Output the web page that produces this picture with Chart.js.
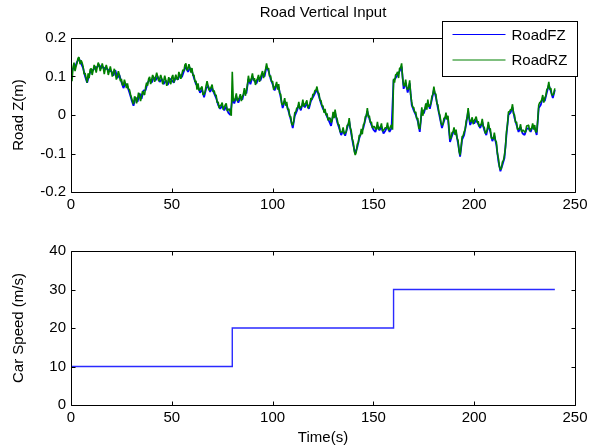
<!DOCTYPE html>
<html>
<head>
<meta charset="utf-8">
<title>Road Vertical Input</title>
<script src="https://cdn.jsdelivr.net/npm/chart.js@4.4.1/dist/chart.umd.min.js"></script>
<style>
    html, body { margin: 0; padding: 0; background: #fff; }
    #figure { position: relative; width: 593px; height: 448px; overflow: hidden; background: #fff; }
    #road-wrap { position: absolute; left: 0; top: 0; width: 593px; height: 220px; }
    #speed-wrap { position: absolute; left: 0; top: 220px; width: 593px; height: 228px; }
</style>
</head>
<body>
<div id="figure">
    <div id="road-wrap"><canvas id="road-chart"></canvas></div>
    <div id="speed-wrap"><canvas id="speed-chart"></canvas></div>
</div>
<script>
// --- Data ---
const RZ_STEP = 0.5; // seconds between RoadRZ samples
const FZ_STEP = 1;   // seconds between RoadFZ samples

const roadRZ = [
    0.100, 0.088, 0.124, 0.136, 0.114, 0.126, 0.135, 0.148, 0.150, 0.132, 0.142, 0.136, 0.126, 0.106, 0.109, 0.096, 0.084, 0.108, 0.096, 0.118,
    0.121, 0.104, 0.116, 0.130, 0.124, 0.110, 0.124, 0.136, 0.129, 0.114, 0.123, 0.134, 0.123, 0.106, 0.120, 0.130, 0.120, 0.104, 0.114, 0.126,
    0.114, 0.100, 0.110, 0.120, 0.108, 0.092, 0.102, 0.114, 0.104, 0.088, 0.094, 0.078, 0.077, 0.092, 0.082, 0.070, 0.082, 0.068, 0.066, 0.054,
    0.045, 0.036, 0.028, 0.048, 0.046, 0.030, 0.042, 0.058, 0.048, 0.036, 0.050, 0.062, 0.056, 0.052, 0.072, 0.084, 0.076, 0.094, 0.099, 0.080,
    0.092, 0.104, 0.097, 0.086, 0.098, 0.110, 0.100, 0.088, 0.094, 0.104, 0.094, 0.080, 0.089, 0.102, 0.091, 0.076, 0.086, 0.098, 0.086, 0.080,
    0.098, 0.104, 0.084, 0.094, 0.105, 0.094, 0.092, 0.112, 0.104, 0.094, 0.106, 0.118, 0.114, 0.130, 0.134, 0.116, 0.120, 0.132, 0.122, 0.110,
    0.122, 0.102, 0.104, 0.086, 0.089, 0.066, 0.082, 0.064, 0.066, 0.070, 0.074, 0.052, 0.054, 0.060, 0.076, 0.088, 0.076, 0.064, 0.068, 0.072,
    0.079, 0.060, 0.064, 0.052, 0.052, 0.032, 0.034, 0.018, 0.024, 0.026, 0.032, 0.014, 0.020, 0.026, 0.030, 0.010, 0.014, 0.016, 0.008, -0.002,
    0.112, 0.036, 0.038, 0.044, 0.056, 0.036, 0.040, 0.046, 0.054, 0.036, 0.048, 0.054, 0.070, 0.050, 0.064, 0.078, 0.102, 0.086, 0.089, 0.096,
    0.108, 0.090, 0.096, 0.078, 0.090, 0.094, 0.104, 0.086, 0.098, 0.106, 0.114, 0.096, 0.108, 0.118, 0.134, 0.120, 0.122, 0.100, 0.102, 0.086,
    0.088, 0.066, 0.072, 0.076, 0.086, 0.066, 0.080, 0.056, 0.054, 0.030, 0.026, 0.032, 0.044, 0.024, 0.034, 0.014, 0.016, -0.004, -0.004, -0.024,
    -0.026, -0.016, 0.006, 0.008, 0.018, 0.020, 0.034, 0.016, 0.020, 0.024, 0.040, 0.022, 0.028, 0.032, 0.038, 0.018, 0.024, 0.028, 0.044, 0.040,
    0.054, 0.054, 0.064, 0.064, 0.074, 0.058, 0.056, 0.038, 0.038, 0.024, 0.024, 0.006, 0.016, 0.000, 0.004, -0.014, -0.008, -0.008, -0.020, -0.014,
    0.008, -0.008, 0.014, -0.004, -0.010, -0.024, -0.026, -0.044, -0.044, -0.044, -0.032, -0.050, -0.046, -0.044, -0.026, -0.026, -0.008, -0.034, -0.040, -0.062,
    -0.070, -0.094, -0.104, -0.096, -0.076, -0.072, -0.052, -0.054, -0.036, -0.050, -0.026, -0.022, -0.004, -0.002, 0.018, -0.006, -0.002, -0.020, -0.018, -0.034,
    -0.030, -0.030, -0.036, -0.036, -0.018, -0.038, -0.032, -0.032, -0.022, -0.042, -0.040, -0.036, -0.032, -0.034, -0.020, -0.040, -0.036, -0.030, -0.026, -0.038,
    0.094, 0.084, 0.104, 0.106, 0.112, 0.096, 0.122, 0.122, 0.134, 0.096, 0.076, 0.076, 0.092, 0.072, 0.066, 0.072, 0.090, 0.052, 0.034, 0.020,
    0.020, 0.006, 0.008, -0.010, -0.008, -0.034, -0.036, -0.014, 0.020, -0.002, 0.012, 0.016, 0.030, 0.014, 0.040, 0.022, 0.024, 0.030, 0.048, 0.054,
    0.074, 0.056, 0.054, 0.030, 0.026, 0.006, 0.000, -0.020, -0.026, -0.024, -0.008, -0.008, 0.006, -0.012, -0.002, -0.034, -0.062, -0.060, -0.046, -0.044,
    -0.032, -0.052, -0.038, -0.060, -0.066, -0.094, -0.104, -0.084, -0.056, -0.054, -0.044, -0.038, -0.016, -0.006, 0.018, -0.008, -0.018, -0.016, -0.006, -0.024,
    -0.014, -0.010, -0.004, -0.020, -0.016, -0.030, -0.026, -0.024, -0.010, -0.030, -0.032, -0.048, -0.044, -0.038, -0.018, -0.034, -0.036, -0.060, -0.060, -0.062,
    -0.046, -0.066, -0.070, -0.100, -0.112, -0.134, -0.142, -0.138, -0.122, -0.118, -0.104, -0.084, -0.044, -0.024, 0.008, 0.008, 0.014, 0.014, 0.028, 0.004,
    0.000, -0.020, -0.018, -0.038, -0.036, -0.034, -0.024, -0.044, -0.040, -0.040, -0.044, -0.044, -0.028, -0.028, -0.026, -0.042, -0.036, -0.034, -0.022, -0.038,
    -0.026, -0.044, -0.044, -0.014, 0.026, 0.032, 0.034, 0.040, 0.052, 0.032, 0.044, 0.050, 0.066, 0.070, 0.086, 0.066, 0.070, 0.052, 0.052, 0.056,
    0.069
];

const roadFZ = [
    0.104, 0.120, 0.124, 0.138, 0.146, 0.134, 0.122, 0.100, 0.084, 0.104,
    0.118, 0.116, 0.124, 0.124, 0.130, 0.122, 0.124, 0.120, 0.120, 0.114,
    0.114, 0.102, 0.116, 0.096, 0.104, 0.086, 0.070, 0.082, 0.074, 0.058,
    0.040, 0.024, 0.046, 0.034, 0.056, 0.042, 0.064, 0.064, 0.084, 0.092,
    0.084, 0.098, 0.090, 0.100, 0.086, 0.094, 0.080, 0.090, 0.078, 0.094,
    0.090, 0.084, 0.098, 0.092, 0.104, 0.098, 0.114, 0.126, 0.112, 0.122,
    0.114, 0.096, 0.080, 0.074, 0.058, 0.066, 0.046, 0.068, 0.076, 0.060,
    0.070, 0.056, 0.044, 0.026, 0.016, 0.024, 0.012, 0.022, 0.006, 0.000,
    0.040, 0.030, 0.048, 0.032, 0.046, 0.040, 0.062, 0.056, 0.094, 0.080,
    0.100, 0.088, 0.082, 0.096, 0.090, 0.106, 0.100, 0.126, 0.114, 0.094,
    0.080, 0.064, 0.078, 0.072, 0.046, 0.018, 0.036, 0.026, 0.008, -0.012,
    -0.034, -0.002, 0.010, 0.026, 0.012, 0.032, 0.020, 0.030, 0.016, 0.036,
    0.046, 0.056, 0.066, 0.048, 0.030, 0.016, 0.008, -0.004, -0.016, -0.028,
    0.000, 0.006, -0.018, -0.034, -0.052, -0.040, -0.054, -0.034, -0.016, -0.048,
    -0.078, -0.100, -0.084, -0.060, -0.044, -0.034, -0.012, 0.010, -0.010, -0.026,
    -0.038, -0.044, -0.026, -0.040, -0.030, -0.048, -0.040, -0.028, -0.044, -0.034,
    0.090, 0.096, 0.104, 0.114, 0.126, 0.068, 0.084, 0.058, 0.082, 0.026,
    0.012, 0.000, -0.016, -0.044, 0.012, 0.004, 0.022, 0.032, 0.016, 0.040,
    0.066, 0.046, 0.018, -0.008, -0.034, -0.016, -0.002, -0.010, -0.070, -0.054,
    -0.040, -0.046, -0.074, -0.108, -0.064, -0.052, -0.024, 0.010, -0.026, -0.014,
    -0.022, -0.012, -0.024, -0.034, -0.018, -0.040, -0.052, -0.026, -0.044, -0.068,
    -0.054, -0.078, -0.120, -0.146, -0.130, -0.112, -0.052, 0.000, 0.006, 0.020,
    -0.008, -0.026, -0.044, -0.032, -0.048, -0.052, -0.036, -0.034, -0.044, -0.030,
    -0.034, -0.052, 0.018, 0.026, 0.044, 0.036, 0.058, 0.078, 0.062, 0.044,
    0.065
];

const speedTime = [0, 80, 160, 240];
const carSpeed = [10, 20, 30, 30];

const timeTicks = [0, 50, 100, 150, 200, 250];
const roadTicks = [-0.2, -0.1, 0, 0.1, 0.2];
const speedTicks = [0, 10, 20, 30, 40];

document.addEventListener('DOMContentLoaded', () => {

    Chart.defaults.font.family = 'Arial, "Liberation Sans", Helvetica, sans-serif';
    Chart.defaults.font.size = 15;
    Chart.defaults.color = '#000';

    const toPoints = (values, step) => values.map((v, i) => ({ x: i * step, y: v }));

    // --- MATLAB-like box with inward tick marks ---
    const matlabFrame = {
        id: 'matlabFrame',
        afterDatasetsDraw(chart) {
            const { ctx, chartArea, scales } = chart;
            const left = Math.round(chartArea.left) + 0.5;
            const right = Math.round(chartArea.right) + 0.5;
            const top = Math.round(chartArea.top) + 0.5;
            const bottom = Math.round(chartArea.bottom) + 0.5;
            const TICK = 4;
            ctx.save();
            ctx.strokeStyle = '#000';
            ctx.lineWidth = 1;
            ctx.beginPath();
            scales.x.ticks.forEach(t => {
                const px = Math.round(scales.x.getPixelForValue(t.value)) + 0.5;
                ctx.moveTo(px, bottom); ctx.lineTo(px, bottom - TICK);
                ctx.moveTo(px, top); ctx.lineTo(px, top + TICK);
            });
            scales.y.ticks.forEach(t => {
                const py = Math.round(scales.y.getPixelForValue(t.value)) + 0.5;
                ctx.moveTo(left, py); ctx.lineTo(left + TICK, py);
                ctx.moveTo(right, py); ctx.lineTo(right - TICK, py);
            });
            ctx.rect(left, top, right - left, bottom - top);
            ctx.stroke();
            ctx.restore();
        }
    };

    // --- Boxed legend in the upper right corner ---
    const boxedLegend = {
        id: 'boxedLegend',
        afterDraw(chart) {
            const { ctx, chartArea } = chart;
            const boxX = Math.round(chartArea.right) - 133 + 0.5;
            const boxY = Math.round(chartArea.top) - 17 + 0.5;
            const boxW = 135;
            const boxH = 55;
            ctx.save();
            ctx.fillStyle = '#fff';
            ctx.fillRect(boxX, boxY, boxW, boxH);
            ctx.strokeStyle = '#000';
            ctx.lineWidth = 1;
            ctx.strokeRect(boxX, boxY, boxW, boxH);
            ctx.font = '15px Arial, "Liberation Sans", Helvetica, sans-serif';
            ctx.textBaseline = 'middle';
            ctx.textAlign = 'left';
            chart.data.datasets.forEach((ds, i) => {
                const rowY = boxY + 13 + i * 25.5;
                ctx.strokeStyle = ds.borderColor;
                ctx.beginPath();
                ctx.moveTo(boxX + 10, rowY);
                ctx.lineTo(boxX + 63, rowY);
                ctx.stroke();
                ctx.fillStyle = '#000';
                ctx.fillText(ds.label, boxX + 69, rowY + 1);
            });
            ctx.restore();
        }
    };

    const fixedTicks = list => scale => { scale.ticks = list.map(v => ({ value: v })); };

    const xAxis = (height, titleText) => ({
        type: 'linear',
        min: timeTicks[0],
        max: timeTicks[timeTicks.length - 1],
        afterBuildTicks: fixedTicks(timeTicks),
        afterFit: scale => { scale.height = height; },
        grid: { drawOnChartArea: false, drawTicks: false },
        border: { display: false },
        ticks: { padding: 4, maxRotation: 0, autoSkip: false },
        title: {
            display: !!titleText,
            text: titleText || '',
            padding: { top: 0, bottom: 1 }
        }
    });

    const yAxis = (ticks, titleText, fmt) => ({
        type: 'linear',
        min: ticks[0],
        max: ticks[ticks.length - 1],
        afterBuildTicks: fixedTicks(ticks),
        afterFit: scale => { scale.width = 71; },
        grid: { drawOnChartArea: false, drawTicks: false },
        border: { display: false },
        ticks: { padding: 5, callback: fmt },
        title: {
            display: true,
            text: titleText,
            padding: { top: 10, bottom: 0 }
        }
    });

    // --- Road vertical input subplot ---
    new Chart(document.getElementById('road-chart'), {
        type: 'line',
        data: {
            datasets: [
                {
                    label: 'RoadFZ',
                    data: toPoints(roadFZ, FZ_STEP),
                    borderColor: '#0000ff',
                    borderWidth: 1.8,
                    borderJoinStyle: 'bevel',
                    pointRadius: 0,
                    order: 1
                },
                {
                    label: 'RoadRZ',
                    data: toPoints(roadRZ, RZ_STEP),
                    borderColor: '#008000',
                    borderWidth: 1.6,
                    borderJoinStyle: 'bevel',
                    pointRadius: 0,
                    order: 0
                }
            ]
        },
        options: {
            responsive: true,
            maintainAspectRatio: false,
            animation: false,
            events: [],
            layout: { padding: { top: 0, right: 18, bottom: 0, left: 0 } },
            plugins: {
                legend: { display: false },
                tooltip: { enabled: false },
                title: {
                    display: true,
                    text: 'Road Vertical Input',
                    fullSize: false,
                    font: { weight: 'normal', size: 15 },
                    padding: { top: 4, bottom: 16 }
                }
            },
            scales: {
                x: xAxis(28, null),
                y: yAxis(roadTicks, 'Road Z(m)', v => String(Math.round(v * 10) / 10))
            }
        },
        plugins: [matlabFrame, boxedLegend]
    });

    // --- Car speed subplot ---
    new Chart(document.getElementById('speed-chart'), {
        type: 'line',
        data: {
            datasets: [{
                label: 'Car Speed',
                data: speedTime.map((t, i) => ({ x: t, y: carSpeed[i] })),
                borderColor: '#2a2aff',
                borderWidth: 1.4,
                pointRadius: 0,
                stepped: true
            }]
        },
        options: {
            responsive: true,
            maintainAspectRatio: false,
            animation: false,
            events: [],
            layout: { padding: { top: 31, right: 18, bottom: 0, left: 0 } },
            plugins: {
                legend: { display: false },
                tooltip: { enabled: false }
            },
            scales: {
                x: xAxis(43, 'Time(s)'),
                y: yAxis(speedTicks, 'Car Speed (m/s)', v => String(v))
            }
        },
        plugins: [matlabFrame]
    });
});
</script>
</body>
</html>
